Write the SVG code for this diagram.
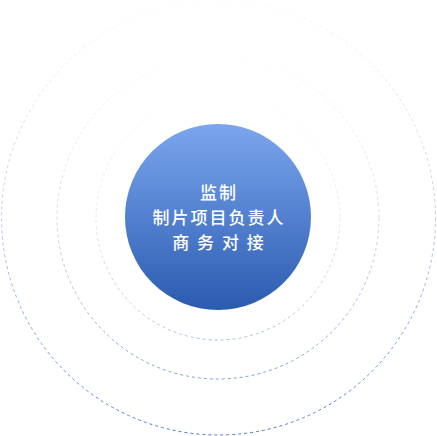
<svg xmlns="http://www.w3.org/2000/svg" width="437" height="436" viewBox="0 0 437 436">
  <defs>
    <linearGradient id="fillGrad" x1="0" y1="0" x2="0" y2="1">
      <stop offset="0" stop-color="#7ba6ee"/>
      <stop offset="1" stop-color="#2b5bb0"/>
    </linearGradient>
    <linearGradient id="ringGrad" x1="0" y1="0" x2="0" y2="1">
      <stop offset="0" stop-color="#5580cc" stop-opacity="0.03"/>
      <stop offset="0.5" stop-color="#5580cc" stop-opacity="0.4"/>
      <stop offset="1" stop-color="#4a78c8" stop-opacity="1"/>
    </linearGradient>
  </defs>
  <style>
    .ring { fill: none; stroke: url(#ringGrad); stroke-width: 1; stroke-dasharray: 3 3; }
    .label { font-family: "Noto Sans CJK SC", "Noto Sans", sans-serif; font-size: 17px; font-weight: 500; fill: #ffffff; text-anchor: middle; letter-spacing: 2px; }
  </style>
  <g id="connectors"/>
  <g id="ring-outer">
    <circle class="ring" cx="218.5" cy="218" r="217"/>
  </g>
  <g id="ring-middle">
    <circle class="ring" cx="218" cy="218" r="161" opacity="0.72"/>
  </g>
  <g id="ring-inner">
    <circle class="ring" cx="218" cy="218" r="122" opacity="0.45"/>
  </g>
  <g id="center-node">
    <circle cx="218" cy="217" r="93" fill="url(#fillGrad)"/>
    <text class="label" x="219" y="199">监制</text>
    <text class="label" x="219" y="224">制片项目负责人</text>
    <text class="label" x="219" y="249">商 务 对 接</text>
  </g>
</svg>
